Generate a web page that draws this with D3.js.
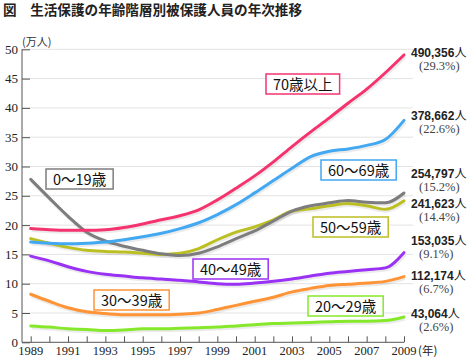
<!DOCTYPE html>
<html><head><meta charset="utf-8">
<script src="https://cdn.jsdelivr.net/npm/d3@7"></script>
<style>body{margin:0;background:#fff}svg{display:block}</style>
</head><body>
<script>
const years = d3.range(1989, 2010);
const s70 = [19.4,19.2,19.1,19.1,19.2,19.6,20.2,20.9,21.6,22.6,24.3,26.3,28.4,30.8,33.4,35.9,38.3,40.8,43.2,46.0,49.0356];
const s60 = [17.1,16.9,16.8,16.9,17.1,17.5,18.0,18.6,19.4,20.4,21.8,23.5,25.5,27.6,29.7,31.7,32.6,33.0,33.6,34.6,37.8662];
const s0  = [27.8,24.6,21.5,18.8,17.3,16.4,15.7,15.1,14.8,15.2,16.3,17.7,19.0,20.7,22.4,23.3,23.8,24.2,23.9,23.8,25.4797];
const s50 = [17.7,16.9,16.2,15.7,15.5,15.4,15.2,15.0,15.2,16.0,17.5,18.8,19.7,20.9,22.4,22.8,23.3,23.7,23.3,22.7,24.1623];
const s40 = [14.7,13.9,12.9,12.1,11.6,11.3,11.0,10.8,10.6,10.3,10.0,9.9,10.1,10.4,10.8,11.3,11.8,12.1,12.4,12.7,15.3035];
const s30 = [8.2,7.0,5.9,5.2,4.9,4.7,4.7,4.7,4.8,5.0,5.6,6.3,7.0,7.7,8.6,9.2,9.7,9.9,10.1,10.4,11.2174];
const s20 = [2.8,2.6,2.3,2.2,2.0,2.1,2.3,2.3,2.4,2.5,2.6,2.8,3.0,3.2,3.3,3.4,3.5,3.6,3.6,3.7,4.3064];
const seriesNames = ["70歳以上","60～69歳","0～19歳","50～59歳","40～49歳","30～39歳","20～29歳"];
const endCounts = ["490,356人","378,662人","254,797人","241,623人","153,035人","112,174人","43,064人"];
const endShares = ["(29.3%)","(22.6%)","(15.2%)","(14.4%)","(9.1%)","(6.7%)","(2.6%)"];
const yTicks = [0,5,10,15,20,25,30,35,40,45,50];
const xTickYears = [1989,1991,1993,1995,1997,1999,2001,2003,2005,2007,2009];

const allSeries = [s70,s60,s0,s50,s40,s30,s20];
const colors = ["#f5336f","#42a8f2","#7d7d7d","#bcbf22","#9a32f5","#ff9436","#86e82a"];
const boxPos = [[266,74],[321,160],[46,169],[313,217],[193,259],[94,290],[308,296]];
const countY = [57,120,178,208,245,280,318];

const W=467,H=358;
const svg = d3.select("body").append("svg").attr("width",W).attr("height",H);
const x = d3.scaleLinear().domain([1989,2009]).range([30.7,404]);
const y = d3.scaleLinear().domain([0,50]).range([342.3,49.3]);
const axisX0 = 22;

svg.append("text").attr("x",3).attr("y",15)
  .attr("font-family","'Noto Sans CJK JP'").attr("font-weight","bold").attr("font-size",13.6)
  .attr("fill","#222").text("図　生活保護の年齢階層別被保護人員の年次推移");

svg.append("g").selectAll("line").data(yTicks.filter(d=>d>0)).join("line")
  .attr("x1",axisX0).attr("x2",413).attr("y1",d=>y(d)).attr("y2",d=>y(d))
  .attr("stroke","#e3e3e3").attr("stroke-width",1);

const ya = d3.axisRight(y).tickValues(yTicks).tickSize(8).tickFormat("");
const yg = svg.append("g").attr("transform",`translate(${axisX0},0)`).call(ya);
yg.select(".domain").remove();
yg.selectAll(".tick line").attr("stroke","#555");
svg.append("line").attr("x1",axisX0).attr("x2",axisX0).attr("y1",y(50)).attr("y2",y(0)).attr("stroke","#555");
svg.append("g").selectAll("text").data(yTicks).join("text")
  .attr("x",18).attr("y",d=>y(d)+4.5).attr("text-anchor","end")
  .attr("font-family","'Liberation Serif'").attr("font-size",13).attr("fill","#222").text(d=>d);
svg.append("text").attr("x",22).attr("y",46).attr("font-family","'Noto Sans CJK JP'")
  .attr("font-size",11).attr("fill","#333").text("(万人)");

const xa = d3.axisTop(x).tickValues(years).tickSize(6).tickFormat("");
const xg = svg.append("g").attr("transform",`translate(0,${y(0)})`).call(xa);
xg.select(".domain").remove();
xg.selectAll(".tick line").attr("stroke","#555");
svg.append("line").attr("x1",axisX0).attr("x2",x(2009)).attr("y1",y(0)).attr("y2",y(0)).attr("stroke","#555");
svg.append("g").selectAll("text").data(xTickYears).join("text")
  .attr("x",d=>x(d)).attr("y",355).attr("text-anchor","middle")
  .attr("font-family","'Liberation Serif'").attr("font-size",12.5).attr("fill","#222").text(d=>d);
svg.append("text").attr("x",418).attr("y",355).attr("font-family","'Noto Sans CJK JP'")
  .attr("font-size",11.5).attr("fill","#222").text("(年)");

const line = d3.line().x((d,i)=>x(years[i])).y(d=>y(d)).curve(d3.curveMonotoneX);
const order = [6,5,4,3,2,1,0];
order.forEach(k=>{
  svg.append("path").attr("d",line(allSeries[k])).attr("fill","none")
    .attr("stroke","#000").attr("stroke-opacity",0.08).attr("stroke-width",4)
    .attr("transform","translate(1,1.5)");
});
order.forEach(k=>{
  svg.append("path").attr("d",line(allSeries[k])).attr("fill","none")
    .attr("stroke",colors[k]).attr("stroke-width",3).attr("stroke-linejoin","round").attr("stroke-linecap","round");
});

seriesNames.forEach((n,k)=>{
  const g = svg.append("g").attr("transform",`translate(${boxPos[k][0]},${boxPos[k][1]})`);
  const t = g.append("text").attr("x",7).attr("y",15.5)
    .attr("font-family","'Noto Sans CJK JP'").attr("font-size",14.5).attr("fill","#111").text(n);
  const w = t.node().getComputedTextLength()+14;
  g.insert("rect","text").attr("x",0).attr("y",0).attr("width",w).attr("height",20)
    .attr("fill","#fff").attr("stroke",colors[k]).attr("stroke-width",1.5);
});

endCounts.forEach((c,k)=>{
  svg.append("text").attr("x",411).attr("y",countY[k]).attr("font-family","'Liberation Sans'")
    .attr("font-weight","bold").attr("font-size",12).attr("fill","#222").text(c.replace("人",""))
    .append("tspan").attr("font-family","'Noto Sans CJK JP'").attr("font-weight","normal").text("人");
  svg.append("text").attr("x",419).attr("y",countY[k]+13).attr("font-family","'Liberation Serif'")
    .attr("font-size",12.5).attr("fill","#444").text(endShares[k]);
});
</script>
</body></html>
